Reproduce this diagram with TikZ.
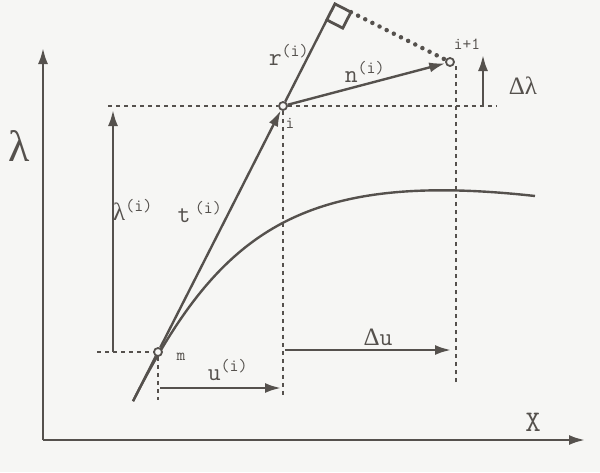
\documentclass[tikz,border=0pt]{standalone}
\usepackage{fontspec}
\newfontfamily\serifgr{Liberation Serif}
\usetikzlibrary{arrows.meta,calc}
\definecolor{ink}{HTML}{55514D}
\definecolor{paper}{HTML}{F6F6F4}
\pgfdeclarelayer{bg}
\pgfsetlayers{bg,main}
\newcommand{\gr}[1]{{\serifgr #1}}
\begin{document}
\begin{tikzpicture}[x=1pt,y=-1pt,
  line/.style={draw=ink,line width=2.4pt},
  arr/.style={line,-{Latex[length=16pt,width=10pt]}},
  dashline/.style={draw=ink,line width=1.8pt,dash pattern=on 4pt off 4pt},
  dotline/.style={draw=ink,line width=4.5pt,line cap=round,dash pattern=on 0pt off 8pt},
  pt/.style={circle,draw=ink,fill=paper,line width=1.8pt,inner sep=0pt,minimum size=8pt},
  lab/.style={text=ink,inner sep=0pt,font=\fontsize{25}{25}\ttfamily},
  small/.style={text=ink,inner sep=0pt,font=\fontsize{17}{17}\ttfamily}
]
\begin{pgfonlayer}{bg}
\fill[paper] (0,0) rectangle (600,472);
\end{pgfonlayer}
\useasboundingbox (0,0) rectangle (600,472);

% points
\node[pt] (m) at (158,352) {};
\node[pt] (i) at (283,106) {};
\node[pt] (ip) at (450,62) {};
\coordinate (t0) at ($(m)!-0.2!(i)$);
\coordinate (A) at ($(m)!1.35!(i)$);
\coordinate (C) at ($(A)+(24.2,-7.8)$);

% axes
\coordinate (O) at (43,440);
\coordinate (ytop) at (43,48);
\coordinate (xend) at (585,440);
\draw[arr] (O) -- (ytop);
\draw[arr] (O) -- (xend);

% curve
\begin{pgfonlayer}{bg}
\draw[line] (t0) .. controls (219,232) and (300,170) .. (535,196);
\end{pgfonlayer}

% dashed guides
\coordinate (hl) at (108,106);
\coordinate (hr) at (497,106);
\coordinate (ml) at (97,352);
\coordinate (mb) at (158,400);
\coordinate (ib) at (283,395);
\coordinate (ipb) at (456,382);
\coordinate (ipt) at (456,66);
\draw[dashline] (hl) -- (i);
\draw[dashline] (i) -- (hr);
\draw[dashline] (ml) -- (m);
\draw[dashline] (m) -- (mb);
\draw[dashline] (i) -- (ib);
\draw[dashline] (ipb) -- (ipt);

% tangent, residual, normal
\draw[line] (t0) -- (m);
\draw[arr] (m) -- (i);
\draw[line] (i) -- (A);
\draw[line,line width=2.8pt] (A) -- ++(8.2,-16) -- ++(16,8.2) -- ++(-8.2,16) -- cycle;
\draw[dotline] (C) -- (ip);
\draw[arr] (i) -- (ip);

% increments
\coordinate (la0) at (113,352);
\coordinate (la1) at (113,110);
\draw[arr] (la0) -- (la1);
\coordinate (u0) at (160,388);
\coordinate (u1) at (281,388);
\draw[arr] (u0) -- (u1);
\coordinate (du0) at (285,350);
\coordinate (du1) at (451,350);
\draw[arr] (du0) -- (du1);
\coordinate (dl0) at (483,106);
\coordinate (dl1) at (483,55);
\draw[arr] (dl0) -- (dl1);

% labels
\node[text=ink,inner sep=0pt,font=\fontsize{44}{44}\serifgr] (Llam) at (19,146) {λ};
\node[text=ink,inner sep=0pt,font=\fontsize{30}{30}\ttfamily] (LX) at (533,422) {X};
\node[lab] (Llami) at (133,210) {\gr{λ}\textsuperscript{(i)}};
\node[lab] (Lt) at (200,212) {t\,\textsuperscript{(i)}};
\node[lab] (Lr) at (289,55) {r\textsuperscript{(i)}};
\node[lab] (Ln) at (365,72) {n\textsuperscript{(i)}};
\node[lab] (Lu) at (228,370) {u\textsuperscript{(i)}};
\node[lab] (Ldu) at (378,337) {\gr{Δ}u};
\node[lab] (Ldl) at (523,86) {\gr{Δλ}};
\node[small] (Lm) at (181,357) {m};
\node[small] (Li) at (290,123) {i};
\node[small] (Lip) at (467,44) {i+1};
\end{tikzpicture}
\end{document}
